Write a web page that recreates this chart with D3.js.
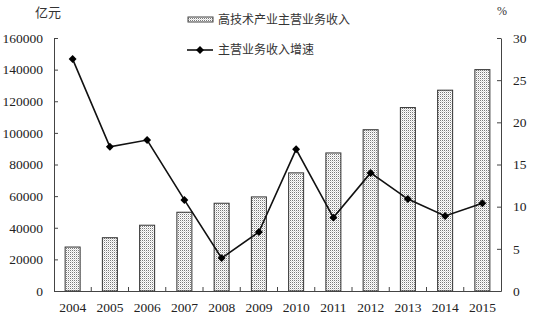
<!DOCTYPE html>
<html>
<head>
<meta charset="utf-8">
<script src="https://cdn.jsdelivr.net/npm/d3@7"></script>
<style>
  body { margin: 0; background: #fff; }
  svg { display: block; }
</style>
</head>
<body>
<div id="chart"></div>
<script>
  // Data
  var years = ["2004","2005","2006","2007","2008","2009","2010","2011","2012","2013","2014","2015"];
  var revenue = [27800, 33700, 41600, 49800, 55500, 59500, 74700, 87300, 102000, 116000, 127000, 140000];
  var growth = [27.5, 17.1, 17.9, 10.8, 3.9, 7.0, 16.8, 8.7, 14.0, 10.9, 8.9, 10.4];
  var leftTicks = [0, 20000, 40000, 60000, 80000, 100000, 120000, 140000, 160000];
  var rightTicks = [0, 5, 10, 15, 20, 25, 30];
  var barLabel = "高技术产业主营业务收入";
  var lineLabel = "主营业务收入增速";

  var width = 538, height = 324;
  var margin = { top: 38, right: 37, bottom: 33, left: 54 };
  var iwidth = width - margin.left - margin.right,
      iheight = height - margin.top - margin.bottom;

  var numFont = "'Liberation Serif', 'Times New Roman', serif";
  var cjkFont = "'Noto Sans CJK SC', sans-serif";

  var svg = d3.select("#chart").append("svg")
    .attr("width", width)
    .attr("height", height);

  // dotted fill
  var defs = svg.append("defs");
  var pat = defs.append("pattern")
    .attr("id", "dots")
    .attr("patternUnits", "userSpaceOnUse")
    .attr("width", 2).attr("height", 2);
  pat.append("rect").attr("width", 2).attr("height", 2).attr("fill", "#fff");
  pat.append("rect").attr("width", 1).attr("height", 1).attr("fill", "#7a7a7a");
  pat.append("rect").attr("x", 1).attr("y", 1).attr("width", 1).attr("height", 1).attr("fill", "#d8d8d8");

  var g = svg.append("g")
    .attr("transform", `translate(${margin.left},${margin.top})`);

  // Scales
  var x = d3.scaleBand().domain(years).range([0, iwidth]);
  var yL = d3.scaleLinear().domain([0, 160000]).range([iheight, 0]);
  var yR = d3.scaleLinear().domain([0, 30]).range([iheight, 0]);

  // Axes
  var axL = g.append("g")
    .call(d3.axisLeft(yL).tickValues(leftTicks).tickFormat(d3.format("d"))
      .tickSizeInner(-4).tickSizeOuter(0).tickPadding(11));
  var axR = g.append("g")
    .attr("transform", `translate(${iwidth},0)`)
    .call(d3.axisRight(yR).tickValues(rightTicks).tickFormat(d3.format("d"))
      .tickSizeInner(-4).tickSizeOuter(0).tickPadding(12));

  // Bars
  var barW = 15;
  g.selectAll("rect.bar")
    .data(years)
    .enter()
    .append("rect")
    .attr("class", "bar")
    .attr("x", (d) => x(d) + x.bandwidth() / 2 - barW / 2)
    .attr("y", (d, i) => yL(revenue[i]))
    .attr("width", barW)
    .attr("height", (d, i) => iheight - yL(revenue[i]))
    .attr("fill", "url(#dots)")
    .attr("stroke", "#333")
    .attr("stroke-width", 1);

  var axB = g.append("g")
    .attr("transform", `translate(0,${iheight})`)
    .call(d3.axisBottom(x).tickSize(0).tickPadding(11));
  // boundary ticks
  axB.selectAll("line.bnd")
    .data(years.slice(1))
    .enter()
    .append("line")
    .attr("class", "bnd")
    .attr("x1", (d) => x(d)).attr("x2", (d) => x(d))
    .attr("y1", 0).attr("y2", -4)
    .attr("stroke", "#444");

  [axL, axR, axB].forEach(function(ax) {
    ax.select(".domain").attr("stroke", "#444");
    ax.selectAll(".tick line").attr("stroke", "#444");
    ax.selectAll("text")
      .attr("fill", "#222")
      .style("font-family", numFont)
      .style("font-size", "13.5px");
  });

  // Line
  var line = d3.line()
    .x((d, i) => x(years[i]) + x.bandwidth() / 2)
    .y((d) => yR(d));
  g.append("path")
    .datum(growth)
    .attr("d", line)
    .attr("fill", "none")
    .attr("stroke", "#111")
    .attr("stroke-width", 1.6);

  var diamond = d3.symbol().type(d3.symbolDiamond2).size(40);
  g.selectAll("path.mark")
    .data(growth)
    .enter()
    .append("path")
    .attr("class", "mark")
    .attr("d", diamond)
    .attr("transform", (d, i) => `translate(${x(years[i]) + x.bandwidth() / 2},${yR(d)})`)
    .attr("fill", "#000");

  // Unit labels
  svg.append("text")
    .attr("x", 48).attr("y", 17)
    .attr("text-anchor", "middle")
    .style("font-family", cjkFont)
    .style("font-size", "13px")
    .attr("fill", "#333")
    .text("亿元");
  svg.append("text")
    .attr("x", 502).attr("y", 15)
    .attr("text-anchor", "middle")
    .style("font-family", numFont)
    .style("font-size", "12px")
    .attr("fill", "#333")
    .text("%");

  // Legend
  svg.append("rect")
    .attr("x", 188).attr("y", 17)
    .attr("width", 25).attr("height", 5)
    .attr("fill", "url(#dots)")
    .attr("stroke", "#444");
  svg.append("text")
    .attr("x", 218).attr("y", 24)
    .style("font-family", cjkFont)
    .style("font-size", "12px")
    .attr("fill", "#333")
    .text(barLabel);

  svg.append("line")
    .attr("x1", 187).attr("x2", 213)
    .attr("y1", 50).attr("y2", 50)
    .attr("stroke", "#111").attr("stroke-width", 1.6);
  svg.append("path")
    .attr("d", diamond)
    .attr("transform", "translate(200,50)")
    .attr("fill", "#000");
  svg.append("text")
    .attr("x", 218).attr("y", 54)
    .style("font-family", cjkFont)
    .style("font-size", "12px")
    .attr("fill", "#333")
    .text(lineLabel);
</script>
</body>
</html>
